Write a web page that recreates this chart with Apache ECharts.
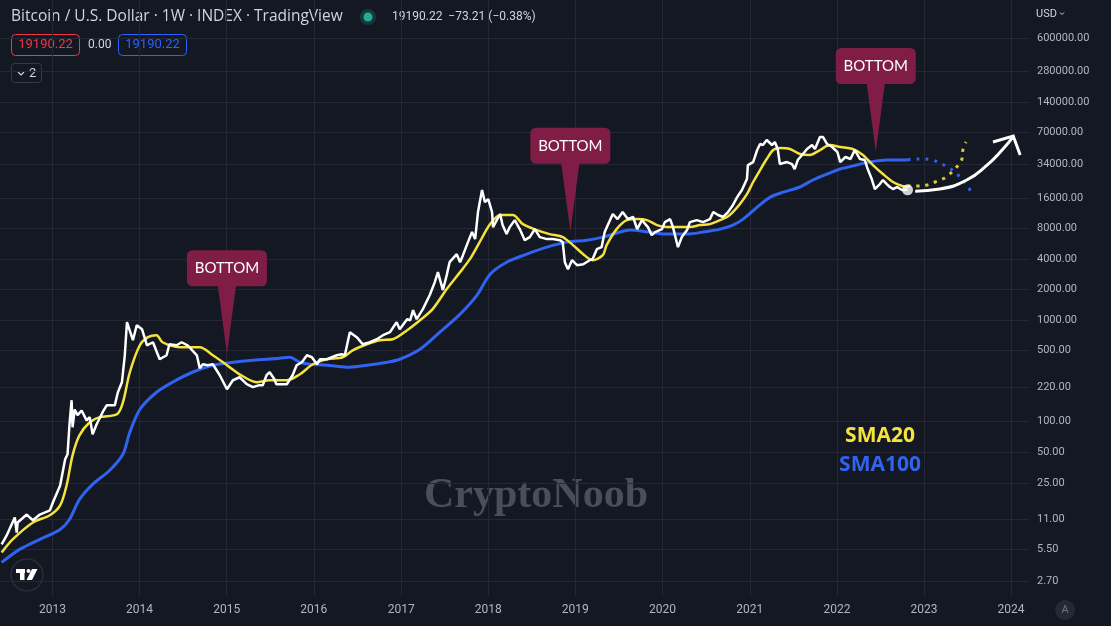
<!DOCTYPE html>
<html><head><meta charset="utf-8">
<script src="https://cdn.jsdelivr.net/npm/echarts@6/dist/echarts.min.js"></script>
<style>html,body{margin:0;padding:0;background:#141823;}#c{width:1111px;height:626px;}</style>
</head><body><div id="c"></div>
<script>
// ---------- DATA ----------
const yearTicks = ['2013-01-01','2014-01-01','2015-01-01','2016-01-01','2017-01-01','2018-01-01','2019-01-01','2020-01-01','2021-01-01','2022-01-01','2023-01-01','2024-01-01'];
const priceTicks = [600000,280000,140000,70000,34000,16000,8000,4000,2000,1000,500,220,100,50,25,11,5.5,2.7];

const priceDates = ['2012-06-02','2012-06-23','2012-07-27','2012-08-04','2012-08-08','2012-09-15','2012-10-11','2012-11-09','2012-12-21',
'2013-01-03','2013-02-02','2013-02-23','2013-03-05','2013-03-13','2013-03-22','2013-03-26','2013-04-04','2013-04-16','2013-05-03','2013-05-24','2013-06-06','2013-06-18','2013-07-05','2013-07-30','2013-08-16','2013-09-19','2013-10-02','2013-10-19','2013-10-31','2013-11-09','2013-11-13','2013-12-04','2013-12-20',
'2014-01-11','2014-02-01','2014-02-26','2014-03-26','2014-04-24','2014-05-06','2014-06-05','2014-06-26','2014-07-21','2014-08-29','2014-09-10','2014-09-23','2014-10-13','2014-11-04','2014-12-03',
'2015-01-02','2015-01-27','2015-02-24','2015-03-26','2015-04-21','2015-05-18','2015-06-01','2015-06-17','2015-06-30','2015-07-20','2015-07-28','2015-08-11','2015-09-10','2015-10-04','2015-10-21','2015-11-12','2015-12-03','2015-12-24',
'2016-01-14','2016-01-27','2016-02-25','2016-04-06','2016-04-27','2016-05-10','2016-05-31','2016-06-29','2016-07-24','2016-08-23','2016-09-21','2016-10-17','2016-11-15','2016-12-13','2016-12-26',
'2017-01-26','2017-02-08','2017-02-20','2017-03-07','2017-04-02','2017-05-01','2017-05-22','2017-06-04','2017-06-25','2017-07-11','2017-07-23','2017-08-22','2017-09-05','2017-09-17','2017-10-08','2017-10-25','2017-11-07','2017-11-19','2017-12-06','2017-12-18',
'2018-01-01','2018-01-17','2018-01-21','2018-02-08','2018-02-20','2018-03-02','2018-03-19','2018-04-01','2018-04-22','2018-05-13','2018-06-03','2018-06-24','2018-07-15','2018-08-05','2018-09-04','2018-09-29','2018-10-28','2018-11-09','2018-11-18','2018-12-01','2018-12-18',
'2019-01-08','2019-02-03','2019-03-02','2019-03-14','2019-04-01','2019-04-21','2019-05-04','2019-05-17','2019-06-07','2019-06-27','2019-07-18','2019-08-09','2019-08-31','2019-09-17','2019-10-07','2019-11-01','2019-11-17','2019-12-01','2019-12-30',
'2020-01-11','2020-02-02','2020-02-14','2020-03-06','2020-03-22','2020-04-13','2020-04-25','2020-05-24','2020-06-19','2020-07-18','2020-08-01','2020-08-21','2020-09-11','2020-10-02','2020-10-22','2020-11-09','2020-11-29','2020-12-20','2020-12-24',
'2021-01-15','2021-02-01','2021-02-13','2021-02-25','2021-03-13','2021-04-04','2021-04-16','2021-04-28','2021-05-07','2021-06-06','2021-06-27','2021-07-08','2021-07-21','2021-08-08','2021-08-29','2021-09-19','2021-10-01','2021-10-22','2021-11-04','2021-11-21','2021-12-12',
'2022-01-03','2022-01-15','2022-02-06','2022-02-27','2022-03-17','2022-04-08','2022-04-28','2022-05-10','2022-05-27','2022-06-09','2022-06-30','2022-07-13','2022-07-29','2022-08-11','2022-08-24','2022-09-10','2022-10-01','2022-10-24'];
const priceValues = [6.2,7.6,11.4,8.1,10.2,12.2,10.7,12.2,13.4,
16.1,23.6,42.7,47.8,92.3,163,88.2,132,116,129,103,111,75.2,94.4,124,145,145,195,245,451,955,999,635,892,
815,566,606,412,451,579,566,606,566,451,336,368,360,368,287,
209,256,274,234,219,229,229,287,307,262,234,234,234,287,360,385,451,431,
368,412,412,451,462,451,761,680,579,606,649,711,761,955,815,
1022,999,1256,1022,1284,1766,2370,2970,1978,2775,3720,4463,3720,4363,5860,7360,6281,11600,19100,14500,
15520,11600,8240,9880,11090,8624,7034,8240,9658,7877,6132,6572,7877,6572,6281,6281,6132,5860,3720,3175,3892,
3476,3555,3892,3985,4998,5232,7360,8624,11090,9880,11600,9880,10360,7877,9658,8240,6877,7360,7877,
9230,9880,8240,5232,6572,7701,9230,9658,9230,9880,11600,10840,10360,11600,13550,16250,19100,24490,33630,
36000,47300,54190,52970,59330,52970,56700,48380,34400,36000,34400,30720,37670,42230,48380,52970,48380,63480,63480,54190,50630,
45200,36000,40360,38570,47300,38570,37670,30720,24490,19540,21880,23960,21880,20450,19540,20450,19100,19190.22];

const sma20Dates = ['2012-06-02','2012-07-18','2012-10-11','2012-12-21','2013-02-02','2013-03-01','2013-03-26','2013-04-24','2013-06-06','2013-07-18','2013-09-28','2013-10-23','2013-11-21',
'2014-01-02','2014-02-05','2014-03-13','2014-04-07','2014-06-18','2014-09-10','2014-11-04','2015-01-02','2015-02-24','2015-05-06','2015-06-30','2015-09-10','2015-11-04','2015-12-28',
'2016-02-25','2016-05-01','2016-06-12','2016-08-10','2016-10-04','2016-11-27','2017-01-26','2017-03-21','2017-05-13','2017-07-11','2017-09-05','2017-10-16','2017-11-26',
'2018-01-09','2018-02-20','2018-04-14','2018-05-26','2018-07-24','2018-09-15','2018-11-09','2018-12-22','2019-02-03','2019-03-14','2019-04-26','2019-05-12','2019-06-23','2019-08-05','2019-09-17','2019-10-28','2019-12-09',
'2020-01-20','2020-03-14','2020-04-25','2020-06-06','2020-07-18','2020-08-29','2020-09-28','2020-10-22','2020-11-20','2020-12-20','2021-01-15','2021-02-13','2021-03-13','2021-04-09','2021-05-07','2021-06-18','2021-07-30','2021-09-09','2021-10-22','2021-12-03',
'2022-01-15','2022-03-08','2022-04-20','2022-06-01','2022-07-13','2022-08-24','2022-10-01','2022-10-24'];
const sma20Values = [5.17,6.95,10.2,12.0,15.0,23.6,46.7,73.5,98.8,111,118.5,155,307,
566,680,711,606,541,541,451,360,293,245,256,256,293,368,
412,431,505,579,635,649,796,999,1284,2023,2970,3985,5860,
8821,10840,10840,8821,7701,7034,6572,5475,4463,3892,4363,5475,7877,9658,9880,9658,8624,
8240,8240,8240,8624,8821,9658,10360,11600,13860,17390,22900,30030,38570,47300,49490,48380,43200,42230,47300,52970,
50630,48380,42230,33630,27430,22900,20920,20600];

const sma100Dates = ['2012-06-02','2012-08-16','2012-11-09','2013-02-02','2013-03-13','2013-04-24','2013-06-18','2013-08-29','2013-10-23','2013-11-21',
'2014-01-02','2014-03-13','2014-05-19','2014-08-10','2014-11-04','2015-01-27','2015-04-21','2015-08-11','2015-09-22','2015-11-04','2015-12-16',
'2016-02-25','2016-05-18','2016-08-10','2016-11-03','2016-12-26','2017-03-21','2017-06-12','2017-09-05','2017-11-15',
'2018-01-09','2018-03-19','2018-06-11','2018-09-04','2018-11-26','2019-02-18','2019-04-26','2019-07-06','2019-08-17','2019-11-10',
'2020-01-20','2020-04-13','2020-06-19','2020-08-29','2020-10-22','2020-12-04','2021-02-01','2021-03-28','2021-05-22','2021-07-30','2021-09-22','2021-11-21',
'2022-01-15','2022-03-25','2022-05-18','2022-07-29','2022-10-15','2022-10-24'];
const sma100Values = [4.12,5.54,6.95,8.70,10.9,17.2,24.2,33.3,47.8,78.7,
132,195,245,307,360,385,403,421,431,385,368,
360,344,360,385,412,517,761,1147,1766,
2838,3720,4463,5232,5860,6132,6572,7360,7701,7360,
7034,7034,7360,7877,8624,9880,12950,16250,18200,20450,23960,27430,
30720,33630,36000,37670,37670,37700];

// projected paths drawn on the chart
const proj100Dates = ['2022-10-24','2022-11-16','2022-12-28','2023-02-05','2023-03-08','2023-04-11','2023-05-10','2023-06-09','2023-06-30','2023-07-21'];
const proj100Values = [37700,38570,38570,37670,35190,32150,28700,24490,21400,17390];
const proj20Dates = ['2022-10-24','2022-11-01','2022-12-07','2023-01-14','2023-02-17','2023-03-20','2023-04-18','2023-05-14','2023-06-09','2023-06-13','2023-06-26'];
const proj20Values = [20600,20920,20920,21400,22900,24490,27430,31420,38570,47300,56700];
const arrowDates = ['2022-11-25','2023-03-08','2023-06-29','2023-09-22','2023-11-28','2024-01-10'];
const arrowValues = [18620,19540,23960,33630,48380,64000];
const arrowHeadDates = ['2023-10-17','2024-01-10','2024-02-08'];
const arrowHeadValues = [56700,64900,42230];

// "BOTTOM" callouts
const bottomDates = ['2015-01-02','2018-12-11','2022-06-13'];
const bottomValues = [462,7400,45200];

const lastPrice = 19190.22, lastChange = -73.21, lastChangePct = -0.38;
const xRange = ['2012-05-26', '2024-03-16'];
const yRange = [1.925, 1418000];

// ---------- CHART ----------
const ts = d => Date.parse(d + 'T00:00:00Z');
const zip = (d, v) => d.map((x, i) => [ts(x), v[i]]);
const chart = echarts.init(document.getElementById('c'), null, {renderer: 'canvas'});
const gridColor = '#252834';
const calloutPath = 'path://M6,0 L74,0 Q80,0 80,6 L80,30 Q80,36 74,36 L49,36 L40,104 L31,36 L6,36 Q0,36 0,30 L0,6 Q0,0 6,0 Z';
const fmtNum = v => v.toFixed(2);
const signed = v => (v < 0 ? '\u2212' : '+') + Math.abs(v).toFixed(2);
const yearTs = yearTicks.map(ts);

const option = {
  backgroundColor: '#141823',
  animation: false,
  grid: {left: 0, right: 82, top: 0, bottom: 30, containLabel: false},
  xAxis: {
    type: 'value', min: ts(xRange[0]), max: ts(xRange[1]), scale: true,
    axisLine: {show: false}, axisTick: {show: false, customValues: yearTs},
    splitLine: {show: true, lineStyle: {color: gridColor, width: 1}},
    axisLabel: {customValues: yearTs, color: '#b2b5be', fontFamily: 'Roboto', fontSize: 12, margin: 8,
      formatter: v => String(new Date(v).getUTCFullYear())}
  },
  yAxis: {
    type: 'log', logBase: 10, position: 'right', min: yRange[0], max: yRange[1],
    axisLine: {show: false}, axisTick: {show: false, customValues: priceTicks},
    splitLine: {show: true, lineStyle: {color: gridColor, width: 1}},
    axisLabel: {customValues: priceTicks, color: '#b2b5be', fontFamily: 'Roboto', fontSize: 11, margin: 8,
      formatter: v => fmtNum(v)}
  },
  series: [
    {type: 'line', name: 'SMA100', data: zip(sma100Dates, sma100Values), showSymbol: false, smooth: 0.3,
      lineStyle: {color: '#2f63f0', width: 3}, z: 2},
    {type: 'line', name: 'SMA20', data: zip(sma20Dates, sma20Values), showSymbol: false, smooth: 0.3,
      lineStyle: {color: '#f5e33c', width: 2.5}, z: 3},
    {type: 'line', name: 'proj100', data: zip(proj100Dates, proj100Values), showSymbol: false, smooth: 0.4,
      lineStyle: {color: '#2f63f0', width: 3, type: [3, 6]}, z: 2},
    {type: 'line', name: 'proj20', data: zip(proj20Dates, proj20Values), showSymbol: false, smooth: 0.4,
      lineStyle: {color: '#d8c83a', width: 3, type: [3, 6]}, z: 3},
    {type: 'line', name: 'arrow', data: zip(arrowDates, arrowValues), showSymbol: false, smooth: 0.5,
      lineStyle: {color: '#ffffff', width: 3}, z: 4},
    {type: 'line', name: 'arrowHead', data: zip(arrowHeadDates, arrowHeadValues), showSymbol: false,
      lineStyle: {color: '#ffffff', width: 3, join: 'miter'}, z: 4},
    {type: 'line', name: 'BTCUSD', data: zip(priceDates, priceValues), showSymbol: false,
      lineStyle: {color: '#ffffff', width: 2.5}, z: 5,
      markPoint: {
        symbol: calloutPath, symbolSize: [80, 104], symbolOffset: [0, '-50%'], silent: true,
        itemStyle: {color: '#7f1d46'},
        label: {show: true, formatter: 'BOTTOM', color: '#ffffff', fontFamily: 'Lato', fontSize: 15,
          position: 'inside', offset: [0, -34]},
        data: bottomDates.map((d, i) => ({coord: [ts(d), bottomValues[i]]}))
      }},
    {type: 'scatter', name: 'last', data: [[ts(priceDates[priceDates.length - 1]), lastPrice]],
      symbolSize: 11, itemStyle: {color: '#ffffff'}, z: 6}
  ],
  graphic: [
    {type: 'text', x: 11, y: 17, style: {text: 'Bitcoin / U.S. Dollar \u00b7 1W \u00b7 INDEX \u00b7 TradingView', fill: '#d1d4dc', font: '15.5px "Open Sans"', verticalAlign: 'middle'}},
    {type: 'circle', shape: {cx: 368, cy: 17, r: 8}, style: {fill: 'rgba(34,171,148,0.22)'}},
    {type: 'circle', shape: {cx: 368, cy: 17, r: 4.5}, style: {fill: '#22ab94'}},
    {type: 'text', x: 392, y: 17, style: {text: fmtNum(lastPrice) + '  ' + signed(lastChange) + ' (' + signed(lastChangePct) + '%)', fill: '#d1d4dc', font: '12px Roboto', verticalAlign: 'middle'}},
    {type: 'rect', shape: {x: 11.5, y: 34.5, width: 68, height: 21, r: 4}, style: {fill: 'none', stroke: '#f23645', lineWidth: 1}},
    {type: 'text', x: 45.5, y: 45, style: {text: fmtNum(lastPrice), fill: '#f23645', font: '13px Roboto', align: 'center', verticalAlign: 'middle'}},
    {type: 'text', x: 88, y: 45, style: {text: '0.00', fill: '#d1d4dc', font: '12px Roboto', verticalAlign: 'middle'}},
    {type: 'rect', shape: {x: 118.5, y: 34.5, width: 68, height: 21, r: 4}, style: {fill: 'none', stroke: '#2962ff', lineWidth: 1}},
    {type: 'text', x: 152.5, y: 45, style: {text: fmtNum(lastPrice), fill: '#2962ff', font: '13px Roboto', align: 'center', verticalAlign: 'middle'}},
    {type: 'rect', shape: {x: 11.5, y: 63.5, width: 30, height: 19, r: 3}, style: {fill: 'none', stroke: '#363a45', lineWidth: 1}},
    {type: 'polyline', shape: {points: [[18, 72], [21, 75], [24, 72]]}, style: {stroke: '#d1d4dc', lineWidth: 1.2, fill: 'none'}},
    {type: 'text', x: 29, y: 73.5, style: {text: '2', fill: '#d1d4dc', font: '13px Roboto', verticalAlign: 'middle'}},
    {type: 'text', x: 1036, y: 14, style: {text: 'USD', fill: '#d1d4dc', font: '11px Roboto', verticalAlign: 'middle'}},
    {type: 'polyline', shape: {points: [[1060, 12.5], [1062, 14.5], [1064, 12.5]]}, style: {stroke: '#d1d4dc', lineWidth: 1, fill: 'none'}},
    {type: 'circle', shape: {cx: 1065, cy: 610, r: 10}, style: {fill: '#252936'}},
    {type: 'text', x: 1065, y: 610, style: {text: 'A', fill: '#6f7380', font: '11px Roboto', align: 'center', verticalAlign: 'middle'}},
    {type: 'text', x: 880, y: 436, style: {text: 'SMA20', fill: '#f5e33c', font: 'bold 21px "Open Sans"', align: 'center', verticalAlign: 'middle'}},
    {type: 'text', x: 880, y: 465, style: {text: 'SMA100', fill: '#2f63f0', font: 'bold 21px "Open Sans"', align: 'center', verticalAlign: 'middle'}},
    {type: 'text', x: 536, y: 496, z: -1, style: {text: 'CryptoNoob', fill: '#4b4e58', font: 'bold 42px "Liberation Serif"', align: 'center', verticalAlign: 'middle'}},
    {type: 'circle', shape: {cx: 27, cy: 575, r: 16}, style: {fill: '#141823', stroke: '#2a2e39', lineWidth: 1.5}},
    {type: 'rect', shape: {x: 16, y: 569, width: 9, height: 4}, style: {fill: '#ffffff'}},
    {type: 'rect', shape: {x: 20, y: 569, width: 4.5, height: 11}, style: {fill: '#ffffff'}},
    {type: 'circle', shape: {cx: 28.5, cy: 571, r: 2}, style: {fill: '#ffffff'}},
    {type: 'polygon', shape: {points: [[32, 569], [37.5, 569], [32, 580], [26.5, 580]]}, style: {fill: '#ffffff'}}
  ]
};
chart.setOption(option);
</script>
</body></html>
